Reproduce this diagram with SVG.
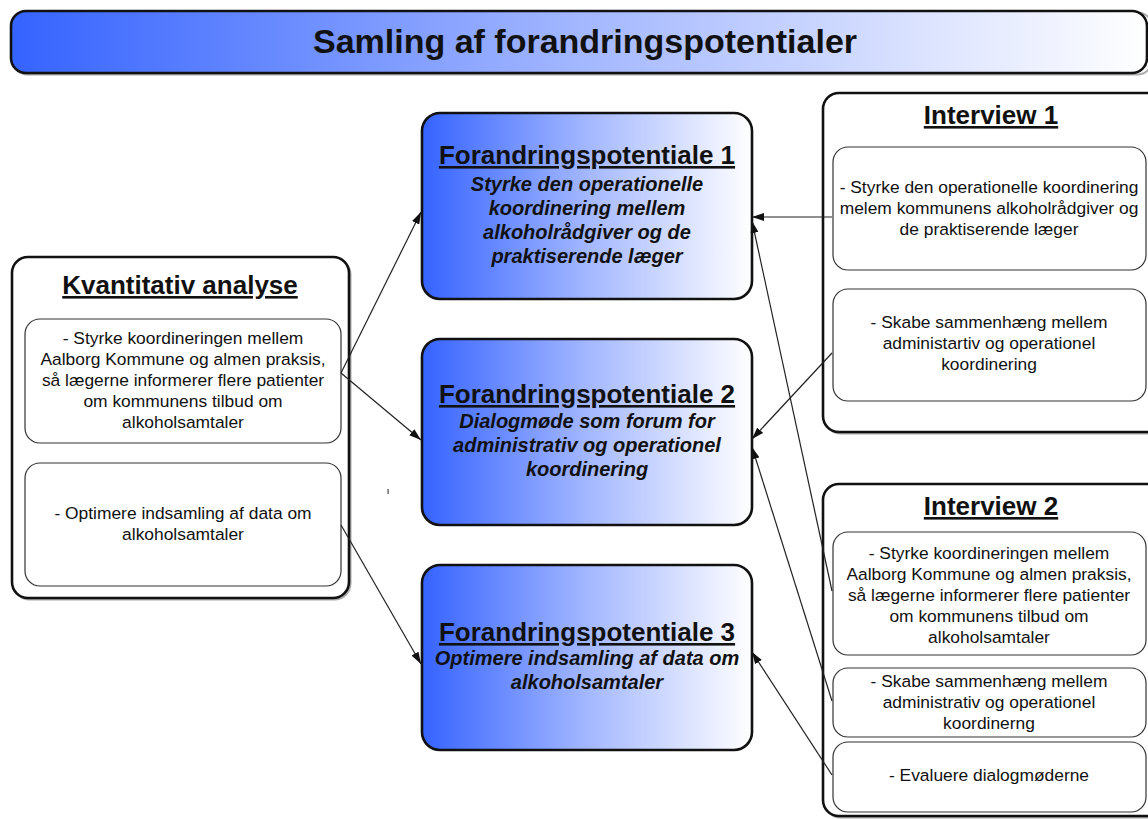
<svg xmlns="http://www.w3.org/2000/svg" width="1148" height="819" viewBox="0 0 1148 819">
  <defs>
    <linearGradient id="blueFade" x1="0" y1="0" x2="1" y2="0">
      <stop offset="0" stop-color="#3563ff"/>
      <stop offset="0.5" stop-color="#a3b7ff"/>
      <stop offset="1" stop-color="#ffffff"/>
    </linearGradient>
    <marker id="arrow" viewBox="0 0 12 8" refX="12" refY="4" markerWidth="12" markerHeight="8" markerUnits="userSpaceOnUse" orient="auto">
      <path d="M0,0 L12,4 L0,8 z" fill="#111"/>
    </marker>
  </defs>
  <style>
    text { font-family: "Liberation Sans", Arial, sans-serif; fill: #111; }
    .title { font-size: 34px; font-weight: bold; text-anchor: middle; }
    .head { font-size: 26px; font-weight: bold; text-anchor: middle; text-decoration: underline; }
    .sub { font-size: 20px; font-weight: bold; font-style: italic; text-anchor: middle; }
    .body { font-size: 17.4px; text-anchor: middle; }
    .outer { fill: #fff; stroke: #111; stroke-width: 2.6; }
    .shadow { fill: none; stroke: #aaa; stroke-width: 2; }
    .inner { fill: #fff; stroke: #333; stroke-width: 1.2; }
    .fp { fill: url(#blueFade); stroke: #111; stroke-width: 2.6; }
    .conn { fill: none; stroke: #222; stroke-width: 1.2; marker-end: url(#arrow); }
  </style>

  <!-- header bar -->
  <g id="title">
    <rect class="shadow" x="12.5" y="12.5" width="1140" height="62" rx="15"/>
    <rect x="11" y="11" width="1136" height="62" rx="15" fill="url(#blueFade)" stroke="#111" stroke-width="2.6"/>
    <text class="title" x="585" y="53">Samling af forandringspotentialer</text>
  </g>

  <!-- quantitative analysis -->
  <g id="kvantitativ">
    <rect class="shadow" x="13.5" y="258.5" width="337" height="341" rx="16"/>
    <rect class="outer" x="12" y="257" width="337" height="341" rx="16"/>
    <text class="head" x="180" y="294">Kvantitativ analyse</text>
    <rect class="inner" x="25" y="319" width="316" height="124" rx="15"/>
    <text class="body" x="183" y="344">- Styrke koordineringen mellem</text>
    <text class="body" x="183" y="365">Aalborg Kommune og almen praksis,</text>
    <text class="body" x="183" y="386">så lægerne informerer flere patienter</text>
    <text class="body" x="183" y="407">om kommunens tilbud om</text>
    <text class="body" x="183" y="428">alkoholsamtaler</text>
    <rect class="inner" x="25" y="463" width="316" height="123" rx="15"/>
    <text class="body" x="183" y="519">- Optimere indsamling af data om</text>
    <text class="body" x="183" y="540">alkoholsamtaler</text>
  </g>

  <!-- change potentials -->
  <g id="fp1">
    <rect class="fp" x="422" y="113" width="330" height="186" rx="18"/>
    <text class="head" x="587" y="164">Forandringspotentiale 1</text>
    <text class="sub" x="587" y="191">Styrke den operationelle</text>
    <text class="sub" x="587" y="215">koordinering mellem</text>
    <text class="sub" x="587" y="239">alkoholrådgiver og de</text>
    <text class="sub" x="587" y="263">praktiserende læger</text>
  </g>
  <g id="fp2">
    <rect class="fp" x="422" y="339" width="330" height="186" rx="18"/>
    <text class="head" x="587" y="403">Forandringspotentiale 2</text>
    <text class="sub" x="587" y="428">Dialogmøde som forum for</text>
    <text class="sub" x="587" y="452">administrativ og operationel</text>
    <text class="sub" x="587" y="476">koordinering</text>
  </g>
  <g id="fp3">
    <rect class="fp" x="422" y="565" width="330" height="185" rx="18"/>
    <text class="head" x="587" y="641">Forandringspotentiale 3</text>
    <text class="sub" x="587" y="665">Optimere indsamling af data om</text>
    <text class="sub" x="587" y="689">alkoholsamtaler</text>
  </g>

  <!-- interview 1 -->
  <g id="interview1">
    <rect class="shadow" x="824.5" y="94.5" width="340" height="339" rx="16"/>
    <rect class="outer" x="823" y="93" width="340" height="339" rx="16"/>
    <text class="head" x="991" y="124">Interview 1</text>
    <rect class="inner" x="833" y="147" width="313" height="123" rx="15"/>
    <text class="body" x="989" y="193">- Styrke den operationelle koordinering</text>
    <text class="body" x="989" y="214">melem kommunens alkoholrådgiver og</text>
    <text class="body" x="989" y="235">de praktiserende læger</text>
    <rect class="inner" x="833" y="289" width="313" height="112" rx="15"/>
    <text class="body" x="989" y="328">- Skabe sammenhæng mellem</text>
    <text class="body" x="989" y="349">administartiv og operationel</text>
    <text class="body" x="989" y="370">koordinering</text>
  </g>

  <!-- interview 2 -->
  <g id="interview2">
    <rect class="shadow" x="824.5" y="485.5" width="340" height="332" rx="16"/>
    <rect class="outer" x="823" y="484" width="340" height="332" rx="16"/>
    <text class="head" x="991" y="515">Interview 2</text>
    <rect class="inner" x="833" y="532" width="313" height="123" rx="15"/>
    <text class="body" x="989" y="559">- Styrke koordineringen mellem</text>
    <text class="body" x="989" y="580">Aalborg Kommune og almen praksis,</text>
    <text class="body" x="989" y="601">så lægerne informerer flere patienter</text>
    <text class="body" x="989" y="622">om kommunens tilbud om</text>
    <text class="body" x="989" y="643">alkoholsamtaler</text>
    <rect class="inner" x="833" y="668" width="313" height="69" rx="15"/>
    <text class="body" x="989" y="687">- Skabe sammenhæng mellem</text>
    <text class="body" x="989" y="708">administrativ og operationel</text>
    <text class="body" x="989" y="729">koordinerng</text>
    <rect class="inner" x="833" y="742" width="313" height="70" rx="15"/>
    <text class="body" x="989" y="781">- Evaluere dialogmøderne</text>
  </g>

  <!-- connectors -->
  <g id="connectors">
    <line class="conn" x1="341" y1="373" x2="421" y2="212"/>
    <line class="conn" x1="341" y1="373" x2="421" y2="440"/>
    <line class="conn" x1="341" y1="525" x2="421" y2="664"/>
    <line class="conn" x1="832" y1="217" x2="752" y2="217"/>
    <line class="conn" x1="832" y1="353" x2="752" y2="439"/>
    <line class="conn" x1="832" y1="591" x2="752" y2="221"/>
    <line class="conn" x1="832" y1="701" x2="752" y2="447"/>
    <line class="conn" x1="832" y1="775" x2="752" y2="652"/>
  </g>

  <!-- stray tick -->
  <rect x="387.5" y="489" width="1.2" height="5" fill="#444"/>
</svg>
